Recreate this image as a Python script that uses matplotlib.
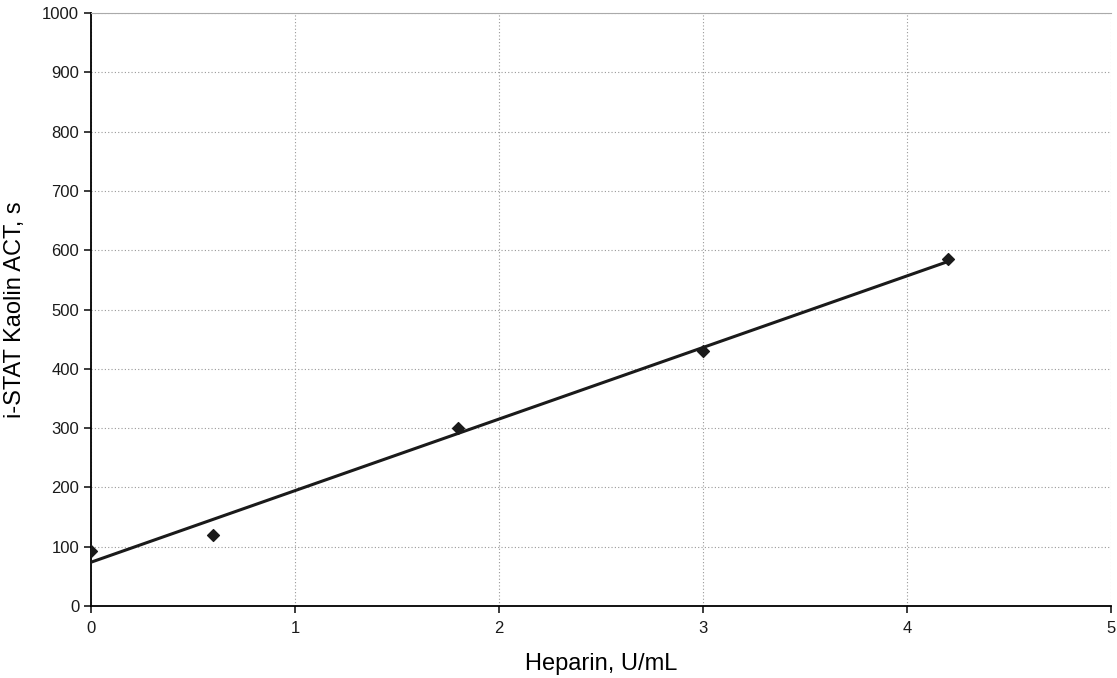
import matplotlib
matplotlib.use("Agg")
import matplotlib.pyplot as plt
import numpy as np

plt.rcParams['font.family'] = ['Liberation Sans', 'DejaVu Sans']

heparin = [0, 0.6, 1.8, 3.0, 4.2]
act = [93, 120, 300, 430, 585]

fig = plt.figure(figsize=(11.17, 6.78), dpi=100)
ax = fig.add_axes([0.0815, 0.1062, 0.9131, 0.8746])

# linear trendline through the points
slope, icpt = np.polyfit(heparin, act, 1)
xs = np.array([0, max(heparin)])
ax.plot(xs, slope * xs + icpt, color='#1a1a1a', lw=2.2, zorder=3)
ax.scatter(heparin, act, marker='D', s=36, color='#1a1a1a', zorder=4)

ax.set_xlim(0, 5)
ax.set_ylim(0, 1000)
ax.set_xticks(range(0, 6))
ax.set_yticks(range(0, 1001, 100))
ax.grid(True, color='#999999', linestyle=(0, (1, 2)), lw=0.8)
ax.set_axisbelow(True)

ax.spines['right'].set_visible(False)
ax.spines['top'].set_color('#aaaaaa')
ax.spines['left'].set_linewidth(1.3)
ax.spines['bottom'].set_linewidth(1.3)
ax.tick_params(direction='out', length=5, width=1.2, labelsize=12, colors='#1a1a1a')
ax.tick_params(axis='x', pad=6)

ax.set_xlabel('Heparin, U/mL', fontsize=17, labelpad=12)
ax.set_ylabel('i-STAT Kaolin ACT, s', fontsize=17, labelpad=12)

fig.savefig('out.png', dpi=100)
